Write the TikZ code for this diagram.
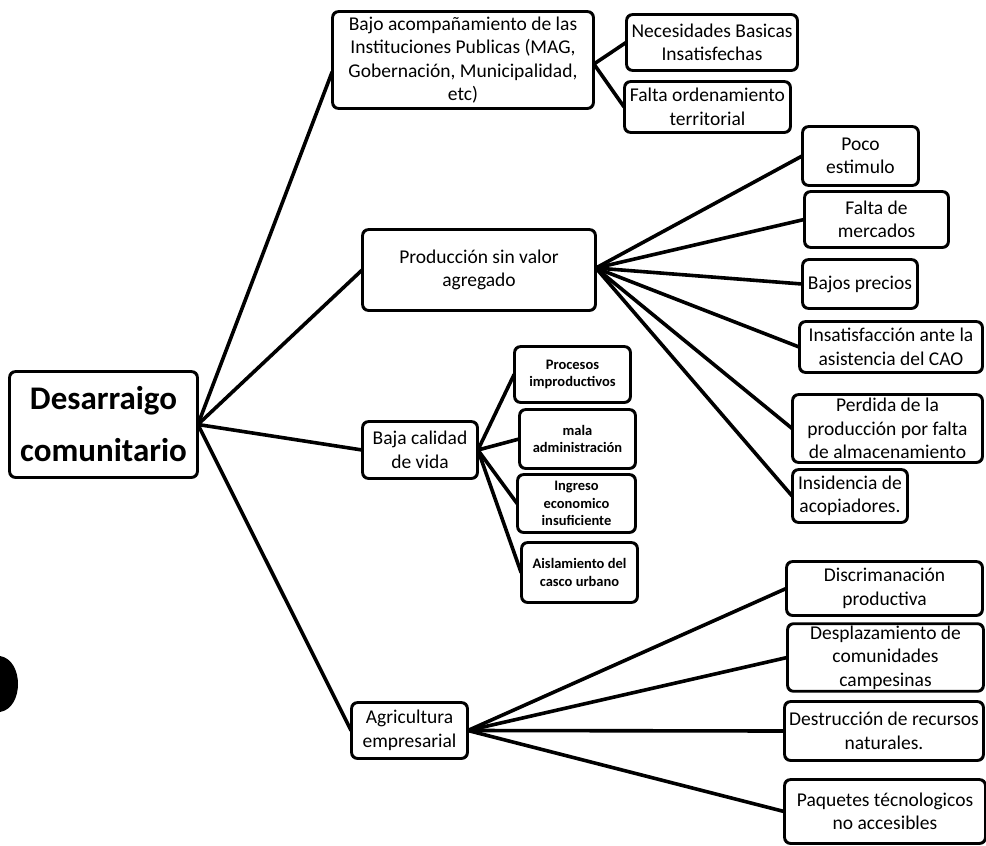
\documentclass[tikz,border=0pt]{standalone}
\usepackage{fontspec}
\setmainfont{Carlito}
\tikzset{
  box/.style={draw=black, line width=1.8pt, rounded corners=6pt, fill=white, align=center,
    inner sep=1.5pt, font=\fontsize{19.5}{23.5}\selectfont},
  smallbox/.style={box, font=\fontsize{14.5}{17.5}\selectfont\bfseries},
  rootbox/.style={box, font=\fontsize{33}{52}\selectfont\bfseries},
  conn/.style={draw=black, line width=3.6pt, line cap=round},
  outline/.style={line width=1.8pt, rounded corners=6pt}
}
\begin{document}
\begin{tikzpicture}[x=1pt,y=-1pt]
\useasboundingbox (0,0) rectangle (986,846);
% scan blot at left edge
\fill[black] (0,656) .. controls (24,660) and (24,708) .. (0,712) -- cycle;

\coordinate (b1W) at (333,72);
\coordinate (b1E) at (593,64);
\coordinate (pE) at (597,268);

\node[rootbox, minimum width=187pt, minimum height=105pt] (root) at (103.5,424.5) {Desarraigo\\comunitario};

\node[box, minimum width=260pt, minimum height=96pt] (b1) at (463,60) {Bajo acompañamiento de las\\Instituciones Publicas (MAG,\\Gobernación, Municipalidad,\\etc)};
\node[box, minimum width=170pt, minimum height=55pt] (n1) at (712,42.5) {Necesidades Basicas\\Insatisfechas};
\node[box, minimum width=165pt, minimum height=50pt] (n2) at (707.5,107) {Falta ordenamiento\\territorial};

\node[box, minimum width=232pt, minimum height=80pt] (p) at (479,270) {Producción sin valor\\agregado};
\node[box, minimum width=115pt, minimum height=58pt] (p1) at (860.5,156) {Poco\\estimulo};
\node[box, minimum width=143pt, minimum height=55pt] (p2) at (876.5,219.5) {Falta de\\mercados};
\node[box, minimum width=114pt, minimum height=48pt] (p3) at (860,284) {Bajos precios};
\node[box, minimum width=182pt, minimum height=50pt] (p4) at (891,347) {Insatisfacción ante la\\asistencia del CAO};
\node[box, minimum width=189pt, minimum height=67pt] (p5) at (887.5,428.5) {Perdida de la\\producción por falta\\de almacenamiento};
\node[box, minimum width=114pt, minimum height=52pt] (p6) at (850,496) {Insidencia de\\acopiadores.};

\node[box, minimum width=114pt, minimum height=56pt] (c) at (420,450) {Baja calidad\\de vida};
\node[smallbox, minimum width=115pt, minimum height=55pt] (c1) at (572.5,374.5) {Procesos\\improductivos};
\node[smallbox, minimum width=115pt, minimum height=58pt] (c2) at (577.5,439) {mala\\administración};
\node[smallbox, minimum width=117pt, minimum height=57pt] (c3) at (576.5,503.5) {Ingreso\\economico\\insuficiente};
\node[smallbox, minimum width=115pt, minimum height=59pt] (c4) at (579.5,572.5) {Aislamiento del\\casco urbano};

\node[box, minimum width=115pt, minimum height=55pt] (a) at (409.5,730.5) {Agricultura\\empresarial};
\node[box, minimum width=195pt, minimum height=53pt] (a1) at (884.5,588.5) {Discrimanación\\productiva};
\node[box, minimum width=195pt, minimum height=65pt] (a2) at (885.5,657.5) {Desplazamiento de\\comunidades\\campesinas};
\node[box, minimum width=198pt, minimum height=58pt] (a3) at (884,731) {Destrucción de recursos\\naturales.};
\node[box, minimum width=200pt, minimum height=63pt] (a4) at (885,811.5) {Paquetes técnologicos\\no accesibles};

% connectors
\draw[conn] (root.east) -- (b1.west |- b1W);
\draw[conn] (root.east) -- (p.west);
\draw[conn] (root.east) -- (c.west);
\draw[conn] (root.east) -- (a.west);

\draw[conn] (b1.east |- b1E) -- (n1.west);
\draw[conn] (b1.east |- b1E) -- (n2.west);

\foreach \t in {p1,p2,p3,p4,p5,p6} \draw[conn] (p.east |- pE) -- (\t.west);
\foreach \t in {c1,c2,c3,c4} \draw[conn] (c.east) -- (\t.west);
\foreach \t in {a1,a2,a3,a4} \draw[conn] (a.east) -- (\t.west);

% redraw box outlines over connector ends
\foreach \n in {root,b1,n1,n2,p,p1,p2,p3,p4,p5,p6,c,c1,c2,c3,c4,a,a1,a2,a3,a4}
  \draw[outline] (\n.north west) rectangle (\n.south east);
\end{tikzpicture}
\end{document}
